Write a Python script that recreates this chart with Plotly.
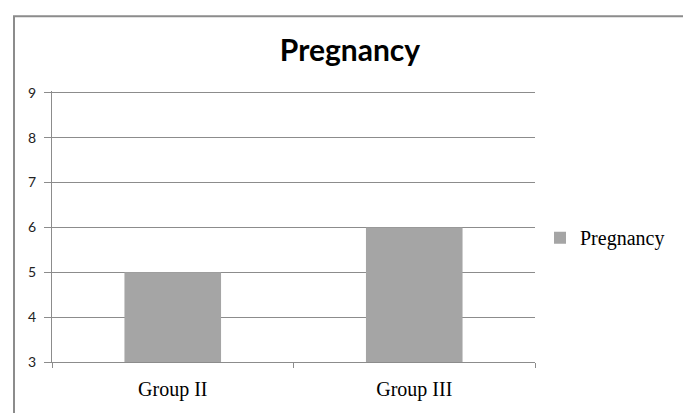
import plotly.graph_objects as go

groups = ["Group II", "Group III"]
pregnancy = [5, 6]
y_ticks = [3, 4, 5, 6, 7, 8, 9]

W, H = 683, 413
L, R, T, B = 52, 148, 91, 43
plot_w = W - L - R
plot_h = H - T - B
GRID = "#8c8c8c"

fig = go.Figure()
fig.add_trace(go.Bar(
    x=groups, y=pregnancy, name="Pregnancy",
    marker=dict(color="#a5a5a5", line=dict(width=0)),
    showlegend=True,
))

fig.update_layout(
    width=W, height=H,
    margin=dict(l=L, r=R, t=T, b=B, pad=0),
    paper_bgcolor="white", plot_bgcolor="white",
    bargap=0.6,
    title=dict(text="<b>Pregnancy</b>", x=350 / W, xanchor="center",
               y=1 - 50 / H, yanchor="middle", yref="container",
               font=dict(family="Lato", size=30, color="black")),
    legend=dict(x=(540 - L) / plot_w, y=(H - B - 242) / plot_h,
                xanchor="left", yanchor="middle",
                font=dict(family="Liberation Serif", size=20, color="black"),
                itemwidth=30, bgcolor="rgba(0,0,0,0)"),
    xaxis=dict(showline=True, linecolor=GRID, linewidth=1,
               ticks="outside", tickson="boundaries", ticklen=5,
               tickcolor=GRID, ticklabelstandoff=9,
               tickfont=dict(family="Liberation Serif", size=20, color="black"),
               showgrid=False, fixedrange=True),
    yaxis=dict(range=[3, 9.04], tickvals=y_ticks, showline=True,
               linecolor=GRID, linewidth=1, ticks="outside", ticklen=7,
               tickcolor=GRID, showgrid=True, gridcolor=GRID,
               gridwidth=1, zeroline=False, ticklabelstandoff=5,
               tickfont=dict(family="Lato", size=14, color="#222222")),
    shapes=[dict(type="rect", xref="paper", yref="paper",
                 x0=(14 - L) / plot_w, x1=2.0,
                 y0=-1.0, y1=(H - B - 14) / plot_h,
                 line=dict(color="#8c8c8c", width=2),
                 fillcolor="rgba(0,0,0,0)", layer="below")],
)

fig.write_html("out.html")
